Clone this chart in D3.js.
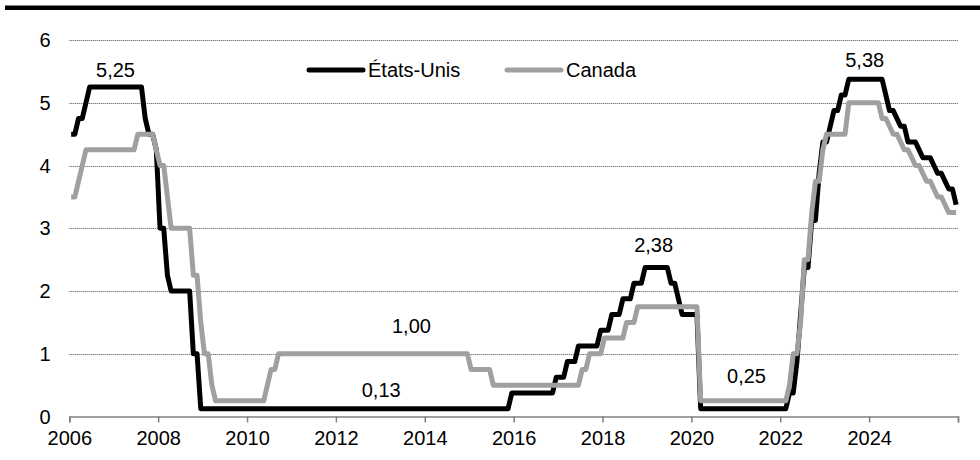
<!DOCTYPE html>
<html><head><meta charset="utf-8">
<script src="https://cdn.jsdelivr.net/npm/d3@7"></script>
<style>
html,body{margin:0;padding:0;background:#fff;}
svg{display:block;font-family:"Liberation Sans",Arial,Helvetica,sans-serif;}
</style></head>
<body>
<svg id="chart" width="980" height="460"></svg>
<script>
// ---- data (end-of-month policy rates, Jan 2006 .. Dec 2025) ----
const startYear = 2006;
const seriesNames = ["États-Unis", "Canada"];
const usRates = [
  4.5,4.5,4.75,4.75,5.0,5.25,5.25,5.25,5.25,5.25,5.25,5.25,            // 2006
  5.25,5.25,5.25,5.25,5.25,5.25,5.25,5.25,4.75,4.5,4.5,4.25,           // 2007
  3.0,3.0,2.25,2.0,2.0,2.0,2.0,2.0,2.0,1.0,1.0,0.125,                  // 2008
  0.125,0.125,0.125,0.125,0.125,0.125,0.125,0.125,0.125,0.125,0.125,0.125, // 2009
  0.125,0.125,0.125,0.125,0.125,0.125,0.125,0.125,0.125,0.125,0.125,0.125, // 2010
  0.125,0.125,0.125,0.125,0.125,0.125,0.125,0.125,0.125,0.125,0.125,0.125, // 2011
  0.125,0.125,0.125,0.125,0.125,0.125,0.125,0.125,0.125,0.125,0.125,0.125, // 2012
  0.125,0.125,0.125,0.125,0.125,0.125,0.125,0.125,0.125,0.125,0.125,0.125, // 2013
  0.125,0.125,0.125,0.125,0.125,0.125,0.125,0.125,0.125,0.125,0.125,0.125, // 2014
  0.125,0.125,0.125,0.125,0.125,0.125,0.125,0.125,0.125,0.125,0.125,0.375, // 2015
  0.375,0.375,0.375,0.375,0.375,0.375,0.375,0.375,0.375,0.375,0.375,0.625, // 2016
  0.625,0.625,0.875,0.875,0.875,1.125,1.125,1.125,1.125,1.125,1.125,1.375, // 2017
  1.375,1.375,1.625,1.625,1.625,1.875,1.875,1.875,2.125,2.125,2.125,2.375, // 2018
  2.375,2.375,2.375,2.375,2.375,2.375,2.125,2.125,1.875,1.625,1.625,1.625, // 2019
  1.625,1.625,0.125,0.125,0.125,0.125,0.125,0.125,0.125,0.125,0.125,0.125, // 2020
  0.125,0.125,0.125,0.125,0.125,0.125,0.125,0.125,0.125,0.125,0.125,0.125, // 2021
  0.125,0.125,0.375,0.375,0.875,1.625,2.375,2.375,3.125,3.125,3.875,4.375, // 2022
  4.375,4.625,4.875,4.875,5.125,5.125,5.375,5.375,5.375,5.375,5.375,5.375, // 2023
  5.375,5.375,5.375,5.375,5.125,4.875,4.875,4.75,4.625,4.625,4.375,4.375,  // 2024
  4.375,4.25,4.125,4.125,4.125,4.0,3.875,3.875,3.75,3.625,3.625,3.375      // 2025
];
const caRates = [
  3.5,3.5,3.75,4.0,4.25,4.25,4.25,4.25,4.25,4.25,4.25,4.25,            // 2006
  4.25,4.25,4.25,4.25,4.25,4.25,4.5,4.5,4.5,4.5,4.5,4.25,              // 2007
  4.0,4.0,3.5,3.0,3.0,3.0,3.0,3.0,3.0,2.25,2.25,1.5,                   // 2008
  1.0,1.0,0.5,0.25,0.25,0.25,0.25,0.25,0.25,0.25,0.25,0.25,            // 2009
  0.25,0.25,0.25,0.25,0.25,0.5,0.75,0.75,1.0,1.0,1.0,1.0,              // 2010
  1.0,1.0,1.0,1.0,1.0,1.0,1.0,1.0,1.0,1.0,1.0,1.0,                     // 2011
  1.0,1.0,1.0,1.0,1.0,1.0,1.0,1.0,1.0,1.0,1.0,1.0,                     // 2012
  1.0,1.0,1.0,1.0,1.0,1.0,1.0,1.0,1.0,1.0,1.0,1.0,                     // 2013
  1.0,1.0,1.0,1.0,1.0,1.0,1.0,1.0,1.0,1.0,1.0,1.0,                     // 2014
  0.75,0.75,0.75,0.75,0.75,0.75,0.5,0.5,0.5,0.5,0.5,0.5,               // 2015
  0.5,0.5,0.5,0.5,0.5,0.5,0.5,0.5,0.5,0.5,0.5,0.5,                     // 2016
  0.5,0.5,0.5,0.5,0.5,0.5,0.75,0.75,1.0,1.0,1.0,1.0,                   // 2017
  1.25,1.25,1.25,1.25,1.25,1.25,1.5,1.5,1.5,1.75,1.75,1.75,            // 2018
  1.75,1.75,1.75,1.75,1.75,1.75,1.75,1.75,1.75,1.75,1.75,1.75,         // 2019
  1.75,1.75,0.25,0.25,0.25,0.25,0.25,0.25,0.25,0.25,0.25,0.25,         // 2020
  0.25,0.25,0.25,0.25,0.25,0.25,0.25,0.25,0.25,0.25,0.25,0.25,         // 2021
  0.25,0.25,0.5,1.0,1.0,1.5,2.5,2.5,3.25,3.75,3.75,4.25,               // 2022
  4.5,4.5,4.5,4.5,4.5,4.5,5.0,5.0,5.0,5.0,5.0,5.0,                     // 2023
  5.0,5.0,5.0,4.75,4.75,4.625,4.5,4.5,4.375,4.25,4.25,4.125,           // 2024
  4.0,4.0,3.875,3.75,3.75,3.625,3.5,3.5,3.375,3.25,3.25,3.25           // 2025
];
const xTickYears = [2006,2008,2010,2012,2014,2016,2018,2020,2022,2024,2026];
const xTickLabels = ["2006","2008","2010","2012","2014","2016","2018","2020","2022","2024",""];
const yTicks = [0,1,2,3,4,5,6];
const annotations = [
  {text:"5,25", year:2007.04, value:5.25,  dy:-10},
  {text:"1,00", year:2013.70, value:1.0,   dy:-21},
  {text:"0,13", year:2013.02, value:0.125, dy:-12},
  {text:"2,38", year:2019.15, value:2.375, dy:-15},
  {text:"0,25", year:2021.24, value:0.25,  dy:-18},
  {text:"5,38", year:2023.90, value:5.375, dy:-12}
];

// ---- drawing ----
const svg = d3.select("#chart");
const FS = 20;
const x = d3.scaleLinear().domain([2006, 2026]).range([69.3, 958]);
const y = d3.scaleLinear().domain([0, 6]).range([416.5, 40]);
const colors = ["#000000", "#a0a0a0"];

// top rule
svg.append("rect").attr("x", 5).attr("y", 5.5).attr("width", 975).attr("height", 4.5).attr("fill", "#000");

// gridlines
svg.append("g").selectAll("line").data(yTicks.filter(d => d > 0)).join("line")
  .attr("x1", x(2006)).attr("x2", x(2026))
  .attr("y1", d => Math.round(y(d)) + 0.5).attr("y2", d => Math.round(y(d)) + 0.5)
  .attr("stroke", "#4a4a4a").attr("stroke-width", 1).attr("stroke-dasharray", "1,1");

// y axis labels
svg.append("g").selectAll("text").data(yTicks).join("text")
  .attr("x", 50.5).attr("y", d => y(d)).attr("dy", "0.35em")
  .attr("text-anchor", "end").attr("font-size", FS).attr("fill", "#000")
  .text(d => d);

// x axis
const xAxis = d3.axisBottom(x).tickValues(xTickYears)
  .tickFormat((d, i) => xTickLabels[i]).tickSize(6).tickPadding(8);
const gx = svg.append("g").attr("transform", `translate(0,${y(0)})`).call(xAxis);
gx.select(".domain").attr("stroke", "#808080").attr("stroke-width", 1.5);
gx.selectAll(".tick line").attr("stroke", "#808080").attr("stroke-width", 1.5);
gx.selectAll(".tick text").attr("font-size", FS).attr("fill", "#000")
  .attr("font-family", "'Liberation Sans',Arial,sans-serif");

// series
const dateOf = i => startYear + (i + 0.5) / 12;
const line = d3.line().x((d, i) => x(dateOf(i))).y(d => y(d));
[usRates, caRates].forEach((s, k) => {
  svg.append("path").datum(s)
    .attr("fill", "none").attr("stroke", colors[k]).attr("stroke-width", 5)
    .attr("stroke-linejoin", "round").attr("stroke-linecap", "butt")
    .attr("d", line);
});

// annotations
svg.append("g").selectAll("text").data(annotations).join("text")
  .attr("x", d => x(d.year)).attr("y", d => y(d.value) + d.dy)
  .attr("text-anchor", "middle").attr("font-size", FS).attr("fill", "#000")
  .text(d => d.text);

// legend
const legendX = [309, 507];
const legend = svg.append("g");
seriesNames.forEach((name, k) => {
  legend.append("line").attr("x1", legendX[k]).attr("x2", legendX[k] + 54)
    .attr("y1", 70).attr("y2", 70).attr("stroke", colors[k]).attr("stroke-width", 5)
    .attr("stroke-linecap", "round");
  legend.append("text").attr("x", legendX[k] + 59).attr("y", 77)
    .attr("font-size", FS).attr("fill", "#000").text(name);
});
</script>
</body></html>
